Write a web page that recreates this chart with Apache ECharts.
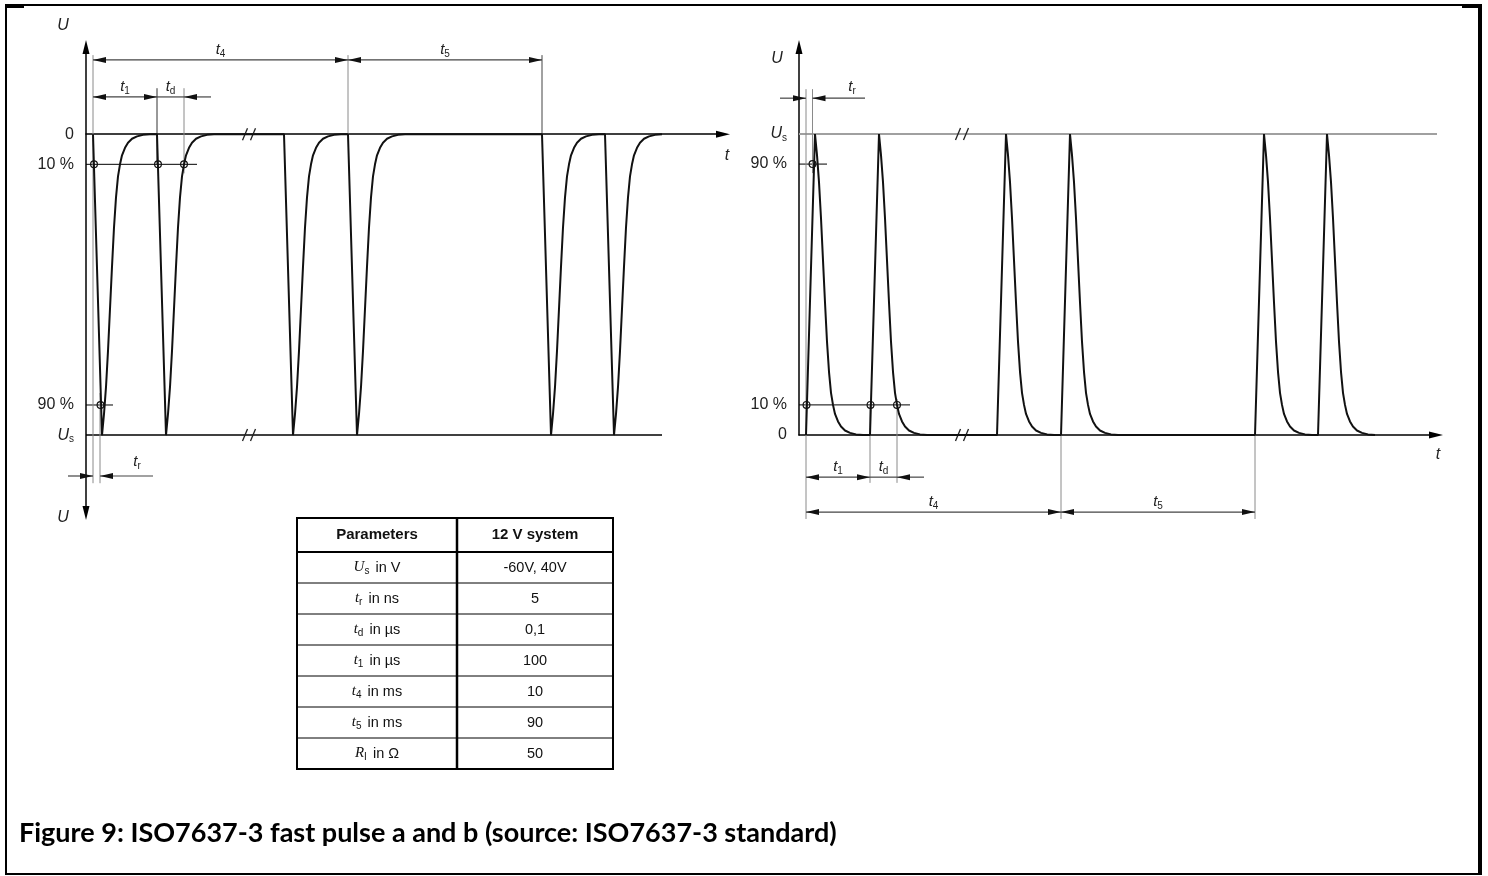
<!DOCTYPE html>
<html><head><meta charset="utf-8">
<script src="https://cdn.jsdelivr.net/npm/echarts@6/dist/echarts.min.js"></script>
<style>html,body{margin:0;padding:0;background:#fff;}#chart{width:1488px;height:876px;}</style>
</head><body><div id="chart"></div>
<script>
// ---------------- data (schematic units) ----------------
const pulseStarts = [7, 71, 198, 262, 456, 519];
const pulseShapeT = [0, 9, 11, 13, 15, 17, 19, 21, 23, 25, 27, 29, 32, 35, 39, 44, 50, 57];
const pulseShapeU = [0, 1, 0.93, 0.84, 0.72, 0.58, 0.44, 0.31, 0.21, 0.14, 0.10, 0.07, 0.045, 0.028, 0.015, 0.007, 0.002, 0];
const levelValues = [0, 0.1, 0.9, 1];
const levelLabels = ['0', '10 %', '90 %', '{u|U}{s|s}'];
const breakAt = 163;
const tableHeader = ['Parameters', '12 V system'];
const paramSymbols = ['U', 't', 't', 't', 't', 't', 'R'];
const paramSubs = ['s', 'r', 'd', '1', '4', '5', 'I'];
const paramUnits = [' in V', ' in ns', ' in µs', ' in µs', ' in ms', ' in ms', ' in Ω'];
const paramValues = ['-60V, 40V', '5', '0,1', '100', '10', '90', '50'];
const caption = 'Figure 9: ISO7637-3 fast pulse a and b (source: ISO7637-3 standard)';

// ---------------- helpers ----------------
function pulseTrain(sign) {
  const pts = [];
  pulseStarts.forEach(s => pulseShapeT.forEach((dt, i) => pts.push([s + dt, sign * pulseShapeU[i]])));
  return pts;
}
const FONT = '"Liberation Sans", Arial, sans-serif';
const ZR_RICH = {
  a: {font: 'italic 15px ' + FONT, fill: '#222', lineHeight: 18},
  b: {font: '10px ' + FONT, fill: '#222', lineHeight: 10, verticalAlign: 'bottom'},
  u: {font: 'italic 16px ' + FONT, fill: '#222', lineHeight: 18}
};
const lab = (sym, sub) => '{a|' + sym + '}{b|' + sub + '}';
const s = pulseStarts;

function annotationSeries(idx, ann) {
  return {
    type: 'custom', xAxisIndex: idx, yAxisIndex: idx, silent: true, clip: false, z: 3,
    data: [[0, 0]],
    renderItem: function (params, api) {
      const P = (t, v) => api.coord([t, v]);
      const out = [];
      const seg = (a, b, color, w) => out.push({type: 'line', shape: {x1: a[0], y1: a[1], x2: b[0], y2: b[1]}, style: {stroke: color, lineWidth: w}});
      const arrow = (tip, dir) => out.push({type: 'polygon', shape: {points: [[tip[0], tip[1]], [tip[0] - dir * 13, tip[1] - 3], [tip[0] - dir * 13, tip[1] + 3]]}, style: {fill: '#111'}});
      ann.lines.forEach(l => seg(P(l[0], l[1]), P(l[2], l[3]), l[4], l[5]));
      ann.dims.forEach(d => {
        const a = P(d[0], d[2]), b = P(d[1], d[2]);
        seg(a, b, '#444', 1.2);
        const dir = Math.sign(b[0] - a[0]);
        if (d[3] === 'both') { arrow(a, -dir); arrow(b, dir); }
        if (d[3] === 'end') arrow(b, dir);
        if (d[4]) out.push({type: 'text', x: (a[0] + b[0]) / 2, y: a[1] - 1, style: {text: d[4], rich: ZR_RICH, align: 'center', verticalAlign: 'bottom'}});
      });
      ann.circles.forEach(c => { const p = P(c[0], c[1]); out.push({type: 'circle', shape: {cx: p[0], cy: p[1], r: 3.4}, style: {fill: 'none', stroke: '#111', lineWidth: 1.2}}); });
      ann.breaks.forEach(bk => {
        const p = P(bk[0], bk[1]);
        [-4, 4].forEach(o => seg([p[0] + o - 2.5, p[1] + 6], [p[0] + o + 2.5, p[1] - 6], '#222', 1.3));
      });
      ann.texts.forEach(tx => { const p = P(tx[0], tx[1]); out.push({type: 'text', x: p[0], y: p[1], style: {text: tx[2], rich: ZR_RICH, align: 'center', verticalAlign: 'middle'}}); });
      return {type: 'group', children: out};
    }
  };
}

// left panel: pulse a (negative)
const annA = {
  lines: [
    [0, -1, 576, -1, '#000', 1.5],
    [0, -0.1, 111, -0.1, '#000', 1],
    [0, -0.9, 27, -0.9, '#000', 1],
    [s[0], 0.263, s[0], -1.16, '#8a8a8a', 1],
    [s[0] + 7, -0.86, s[0] + 7, -1.16, '#8a8a8a', 1],
    [s[1], 0.153, s[1], -0.1, '#333', 1],
    [s[1] + 27, 0.153, s[1] + 27, -0.13, '#8a8a8a', 1],
    [s[3], 0.263, s[3], 0, '#8a8a8a', 1],
    [s[4], 0.263, s[4], 0, '#444', 1]
  ],
  dims: [
    [s[0], s[3], 0.247, 'both', lab('t', '4')],
    [s[3], s[4], 0.247, 'both', lab('t', '5')],
    [s[0], s[1], 0.124, 'both', lab('t', '1')],
    [s[1], s[1] + 27, 0.124, 'none', lab('t', 'd')],
    [s[1] + 54, s[1] + 27, 0.124, 'end', ''],
    [-18, s[0], -1.136, 'end', ''],
    [67, s[0] + 7, -1.136, 'end', '']
  ],
  circles: [[s[0] + 1, -0.1], [s[1] + 1, -0.1], [s[1] + 27, -0.1], [s[0] + 7.5, -0.9]],
  breaks: [[breakAt, 0], [breakAt, -1]],
  texts: [
    [-23, 0.362, '{u|U}'],
    [-23, -1.273, '{u|U}'],
    [641, -0.072, '{u|t}'],
    [51, -1.09, lab('t', 'r')]
  ]
};
// right panel: pulse b (positive)
const annB = {
  lines: [
    [0, 1, 638, 1, '#a0a0a0', 2],
    [0, 0.9, 28, 0.9, '#000', 1],
    [0, 0.1, 111, 0.1, '#000', 1],
    [s[0], 1.149, s[0], -0.279, '#8a8a8a', 1],
    [s[0] + 6.5, 1.149, s[0] + 6.5, 0.87, '#8a8a8a', 1],
    [s[1], 0.1, s[1], -0.159, '#8a8a8a', 1],
    [s[1] + 27, 0.12, s[1] + 27, -0.159, '#8a8a8a', 1],
    [s[3], 0, s[3], -0.279, '#8a8a8a', 1],
    [s[4], 0, s[4], -0.279, '#8a8a8a', 1]
  ],
  dims: [
    [-19, s[0], 1.119, 'end', ''],
    [66, s[0] + 6.5, 1.119, 'end', ''],
    [s[0], s[1], -0.14, 'both', lab('t', '1')],
    [s[1], s[1] + 27, -0.14, 'none', lab('t', 'd')],
    [s[1] + 54, s[1] + 27, -0.14, 'end', ''],
    [s[0], s[3], -0.256, 'both', lab('t', '4')],
    [s[3], s[4], -0.256, 'both', lab('t', '5')]
  ],
  circles: [[s[0] + 0.5, 0.1], [s[1] + 0.5, 0.1], [s[1] + 27, 0.1], [s[0] + 6.5, 0.9]],
  breaks: [[breakAt, 1], [breakAt, 0]],
  texts: [
    [-22, 1.252, '{u|U}'],
    [639, -0.066, '{u|t}'],
    [53, 1.156, lab('t', 'r')]
  ]
};

function levelFormatter(v) {
  for (let i = 0; i < levelValues.length; i++) if (Math.abs(Math.abs(v) - levelValues[i]) < 1e-6) return levelLabels[i];
  return '';
}
const axisRich = {
  u: {fontFamily: 'Liberation Sans', fontStyle: 'italic', fontSize: 16, lineHeight: 18, color: '#222'},
  s: {fontFamily: 'Liberation Sans', fontSize: 10, lineHeight: 10, verticalAlign: 'bottom', color: '#222'}
};
const axisLineStyle = {color: '#000', width: 1.5};
function xAxisCfg(i) {
  return {gridIndex: i, type: 'value', min: 0, max: 637,
    axisLine: {show: true, onZero: true, symbol: ['none', 'triangle'], symbolSize: [7, 14], lineStyle: axisLineStyle},
    axisTick: {show: false}, axisLabel: {show: false}, splitLine: {show: false}};
}
function yAxisCfg(i, min, max, sign, symbols) {
  return {gridIndex: i, type: 'value', min: min, max: max,
    axisLine: {show: true, onZero: true, symbol: symbols, symbolSize: [7, 14], lineStyle: axisLineStyle},
    axisTick: {show: false}, splitLine: {show: false},
    axisLabel: {show: true, customValues: levelValues.map(v => sign * v), formatter: levelFormatter, margin: 12,
      fontFamily: 'Liberation Sans', fontSize: 16, color: '#222', rich: axisRich}};
}

// ---------------- table + frame + caption (graphic) ----------------
const graphics = [];
graphics.push({type: 'rect', shape: {x: 6, y: 5, width: 1474, height: 869}, style: {fill: 'none', stroke: '#000', lineWidth: 2}});
graphics.push({type: 'rect', shape: {x: 5, y: 4, width: 19, height: 4}, style: {fill: '#000'}});
graphics.push({type: 'rect', shape: {x: 1462, y: 4, width: 20, height: 4}, style: {fill: '#000'}});
graphics.push({type: 'rect', shape: {x: 1478, y: 4, width: 4, height: 871}, style: {fill: '#000'}});
const TX = [297, 457, 613], TY0 = 518, HH = 34, RH = 31;
const TB = TY0 + HH + RH * paramValues.length;
graphics.push({type: 'rect', shape: {x: TX[0], y: TY0, width: TX[2] - TX[0], height: TB - TY0}, style: {fill: 'none', stroke: '#000', lineWidth: 2}});
graphics.push({type: 'line', shape: {x1: TX[1], y1: TY0, x2: TX[1], y2: TB}, style: {stroke: '#000', lineWidth: 2.5}});
graphics.push({type: 'line', shape: {x1: TX[0], y1: TY0 + HH, x2: TX[2], y2: TY0 + HH}, style: {stroke: '#000', lineWidth: 2}});
for (let k = 1; k < paramValues.length; k++) {
  const y = TY0 + HH + RH * k;
  graphics.push({type: 'line', shape: {x1: TX[0], y1: y, x2: TX[2], y2: y}, style: {stroke: '#000', lineWidth: 1}});
}
const c0 = (TX[0] + TX[1]) / 2, c1 = (TX[1] + TX[2]) / 2;
tableHeader.forEach((h, i) => graphics.push({type: 'text', x: i ? c1 : c0, y: TY0 + HH / 2,
  style: {text: h, font: 'bold 15px ' + FONT, fill: '#111', align: 'center', verticalAlign: 'middle'}}));
const tableRich = {
  sym: {font: 'italic 15px "Liberation Serif", serif', fill: '#111', lineHeight: 18},
  sub: {font: '10px ' + FONT, fill: '#111', lineHeight: 10, verticalAlign: 'bottom', padding: [0, 2, 0, 0]},
  n: {font: '14.5px ' + FONT, fill: '#111', lineHeight: 18}
};
paramValues.forEach((v, k) => {
  const y = TY0 + HH + RH * k + RH / 2;
  graphics.push({type: 'text', x: c0, y: y, style: {text: '{sym|' + paramSymbols[k] + '}{sub|' + paramSubs[k] + '}{n|' + paramUnits[k] + '}', rich: tableRich, align: 'center', verticalAlign: 'middle'}});
  graphics.push({type: 'text', x: c1, y: y, style: {text: v, font: '14.5px ' + FONT, fill: '#111', align: 'center', verticalAlign: 'middle'}});
});
const mctx = document.createElement('canvas').getContext('2d');
mctx.font = 'bold 100px Lato';
const capSize = Math.round(100 * 817 / mctx.measureText(caption).width * 10) / 10;
graphics.push({type: 'text', x: 19, y: 833, style: {text: caption, font: 'bold ' + capSize + 'px Lato, sans-serif', fill: '#000', align: 'left', verticalAlign: 'middle'}});

// ---------------- chart ----------------
const chart = echarts.init(document.getElementById('chart'), null, {renderer: 'canvas'});
chart.setOption({
  animation: false,
  backgroundColor: '#fff',
  grid: [
    {left: 86, top: 47, width: 637, height: 466},
    {left: 799, top: 47, width: 637, height: 388}
  ],
  xAxis: [xAxisCfg(0), xAxisCfg(1)],
  yAxis: [
    yAxisCfg(0, -1.259, 0.290, -1, ['triangle', 'triangle']),
    yAxisCfg(1, 0, 1.289, 1, ['none', 'triangle'])
  ],
  series: [
    {type: 'line', xAxisIndex: 0, yAxisIndex: 0, data: pulseTrain(-1), symbol: 'none', silent: true, lineStyle: {color: '#111', width: 2}, z: 4},
    {type: 'line', xAxisIndex: 1, yAxisIndex: 1, data: pulseTrain(1), symbol: 'none', silent: true, lineStyle: {color: '#111', width: 2}, z: 4},
    annotationSeries(0, annA),
    annotationSeries(1, annB)
  ],
  graphic: graphics
});
</script>
</body></html>
